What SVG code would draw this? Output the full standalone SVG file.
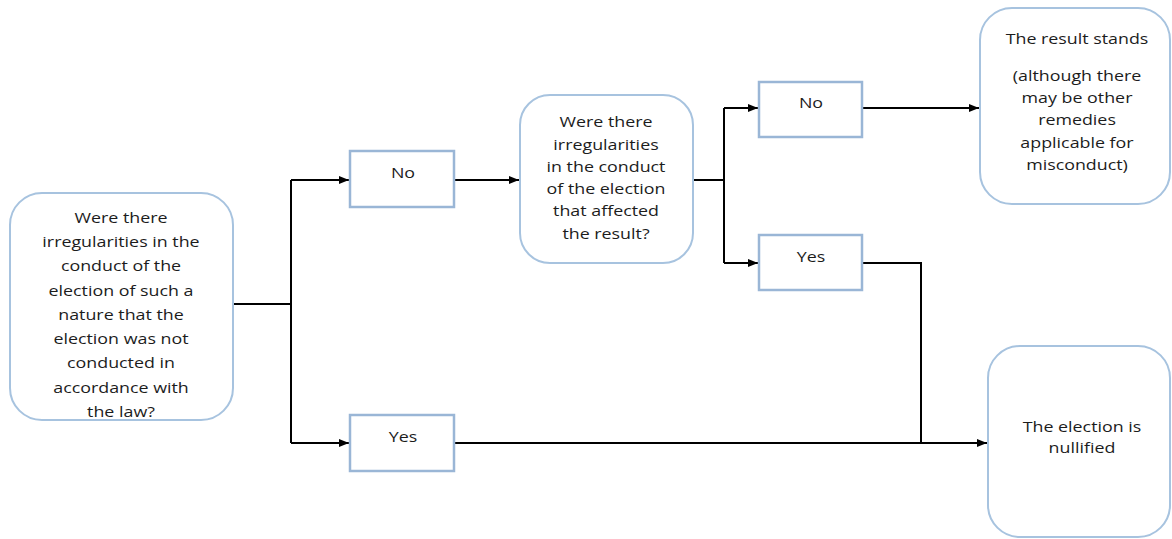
<svg xmlns="http://www.w3.org/2000/svg" width="1172" height="539" viewBox="0 0 1172 539">
<style>
.rn{fill:#fff;stroke:#a7c3df;stroke-width:2}
.bx{fill:#fff;stroke:#9ab6d6;stroke-width:2.5}
.t{font-family:"Open Sans","Liberation Sans",sans-serif;font-size:14.5px;fill:#1c1c1c;text-anchor:middle}
.c{fill:none;stroke:#000;stroke-width:2}
</style>
<defs>
<marker id="ah" viewBox="0 0 10 10" refX="10" refY="5" markerWidth="10" markerHeight="10" markerUnits="userSpaceOnUse" orient="auto">
<path d="M0,1 L10,5 L0,9 Z" fill="#000"/>
</marker>
</defs>
<rect width="1172" height="539" fill="#fff"/>
<g id="connectors">
<path class="c" d="M233,304 H291"/>
<path class="c" d="M291,180 V443"/>
<path class="c" d="M291,180 H349" marker-end="url(#ah)"/>
<path class="c" d="M291,443 H349" marker-end="url(#ah)"/>
<path class="c" d="M454,180 H519" marker-end="url(#ah)"/>
<path class="c" d="M693,180 H724"/>
<path class="c" d="M724,108 V263"/>
<path class="c" d="M724,108 H758" marker-end="url(#ah)"/>
<path class="c" d="M724,263 H758" marker-end="url(#ah)"/>
<path class="c" d="M862,108 H979" marker-end="url(#ah)"/>
<path class="c" d="M862,263 H921 V443"/>
<path class="c" d="M454,443 H987" marker-end="url(#ah)"/>
</g>
<g id="q1">
<rect class="rn" x="10" y="193" width="223" height="227" rx="32"/>
<g transform="translate(121 0) scale(1.23 1)">
<text class="t" x="0" y="223">Were there</text>
<text class="t" x="0" y="247">irregularities in the</text>
<text class="t" x="0" y="271">conduct of the</text>
<text class="t" x="0" y="296">election of such a</text>
<text class="t" x="0" y="320">nature that the</text>
<text class="t" x="0" y="344">election was not</text>
<text class="t" x="0" y="368">conducted in</text>
<text class="t" x="0" y="393">accordance with</text>
<text class="t" x="0" y="417">the law?</text>
</g>
</g>
<g id="no1">
<rect class="bx" x="350" y="151" width="104" height="56"/>
<text class="t" x="0" y="178" transform="translate(403 0) scale(1.23 1)">No</text>
</g>
<g id="yes1">
<rect class="bx" x="350" y="415" width="104" height="56"/>
<text class="t" x="0" y="442" transform="translate(403 0) scale(1.23 1)">Yes</text>
</g>
<g id="q2">
<rect class="rn" x="520" y="95" width="173" height="168" rx="30"/>
<g transform="translate(606 0) scale(1.23 1)">
<text class="t" x="0" y="127">Were there</text>
<text class="t" x="0" y="150">irregularities</text>
<text class="t" x="0" y="172">in the conduct</text>
<text class="t" x="0" y="194">of the election</text>
<text class="t" x="0" y="216">that affected</text>
<text class="t" x="0" y="239">the result?</text>
</g>
</g>
<g id="no2">
<rect class="bx" x="759" y="82" width="103" height="55"/>
<text class="t" x="0" y="108" transform="translate(811 0) scale(1.23 1)">No</text>
</g>
<g id="yes2">
<rect class="bx" x="759" y="235" width="103" height="55"/>
<text class="t" x="0" y="262" transform="translate(811 0) scale(1.23 1)">Yes</text>
</g>
<g id="stands">
<rect class="rn" x="980" y="8" width="190" height="196" rx="32"/>
<g transform="translate(1077 0) scale(1.23 1)">
<text class="t" x="0" y="44">The result stands</text>
<text class="t" x="0" y="81">(although there</text>
<text class="t" x="0" y="103">may be other</text>
<text class="t" x="0" y="125">remedies</text>
<text class="t" x="0" y="148">applicable for</text>
<text class="t" x="0" y="170">misconduct)</text>
</g>
</g>
<g id="nullified">
<rect class="rn" x="988" y="346" width="182" height="191" rx="32"/>
<g transform="translate(1082 0) scale(1.23 1)">
<text class="t" x="0" y="432">The election is</text>
<text class="t" x="0" y="453">nullified</text>
</g>
</g>
</svg>
